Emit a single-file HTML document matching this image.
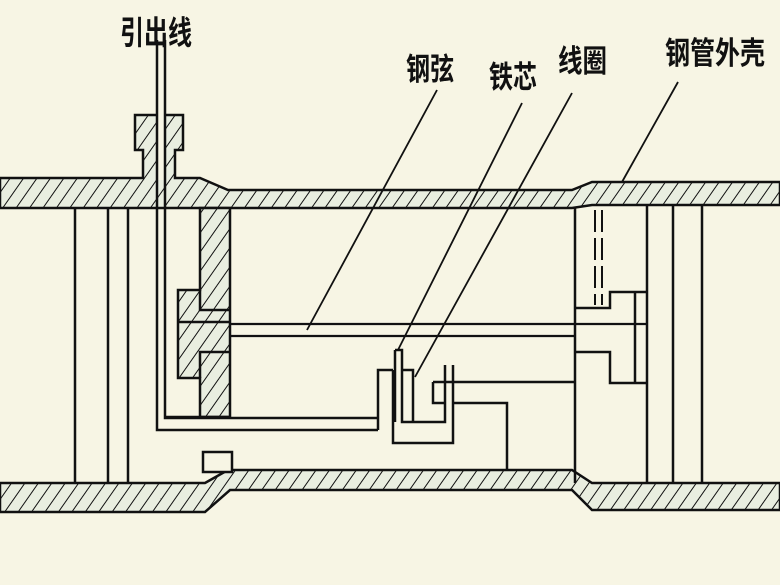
<!DOCTYPE html>
<html><head><meta charset="utf-8"><style>
html,body{margin:0;padding:0;background:#f7f5e4;}
svg{display:block}
text{font-family:"Liberation Sans","Noto Sans CJK SC","WenQuanYi Zen Hei",sans-serif;font-weight:bold;fill:#111}
</style></head><body>
<svg width="780" height="585" viewBox="0 0 780 585" xmlns="http://www.w3.org/2000/svg">
<defs>
<pattern id="h" patternUnits="userSpaceOnUse" width="11" height="11" patternTransform="rotate(35)">
<rect width="11" height="11" fill="#e9eee0"/>
<line x1="0" y1="0" x2="0" y2="11" stroke="#111" stroke-width="2"/>
</pattern>
</defs>
<rect width="780" height="585" fill="#f7f5e4"/>
<g stroke="#111" stroke-width="2.5" fill="none" stroke-linejoin="miter">
<!-- top pipe -->
<path fill="url(#h)" d="M0,178 H143 V150 H135 V115 H183 V150 H175 V178 H200 L228,190 H572 L592,182 H780 V205 H592 L572,208 H0 Z"/>
<!-- bottom pipe -->
<path fill="url(#h)" d="M0,483 H205 L228,470 H572 L592,483 H780 V510 H592 L572,490 H230 L205,512 H0 Z"/>
<!-- lead wire -->
<rect x="157" y="40" width="8" height="140" fill="#f7f5e4" stroke="none"/>
<path d="M157,40 V430 H378 M165,40 V418 H378"/>
<!-- left vertical lines -->
<path d="M75,207 V483 M108,207 V483 M128,207 V483"/>
<!-- plate -->
<path fill="url(#h)" d="M200,208 H230 V417 H200 V378 H178 V290 H200 Z"/>
<path d="M200,290 V310 H230 M200,378 V352 H230 M178,322 H230"/>
<path d="M165,417 H230"/>
<!-- string -->
<path d="M230,324 H647 M230,336 H575" stroke-width="2.2"/>
<!-- bottom small block -->
<rect x="203" y="452" width="29" height="20" fill="#f7f5e4"/>
<!-- right clamp -->
<path d="M575,207 V483 M647,205 V483 M673,205 V483 M702,205 V483"/>
<path d="M595,210 V305 M602,210 V305" stroke-dasharray="22,6" stroke-width="2"/>
<path d="M575,308 H610 V292 H647 M635,292 V383 M575,352 H610 V383 H647"/>
<!-- core & coil -->
<path d="M378,418 V370 H393 M378,430 V418"/>
<path d="M395,350 H402 V422 H445 V365 M395,350 V422"/>
<path d="M393,370 V443 H453 V365"/>
<path d="M402,370 H413 V422"/>
<path d="M433,382 H575 M433,382 V403 H445 M453,403 H507 V470"/>
<!-- leaders -->
<path d="M437,90 L307,330 M522,103 L398,350 M572,93 L415,377 M678,82 L622,182" stroke-width="1.8"/>
</g>
<g font-size="24">
<text x="120" y="0" transform="translate(0,44) scale(1,1.35)" textLength="72" lengthAdjust="spacingAndGlyphs">引出线</text>
<text x="406" y="0" transform="translate(0,80) scale(1,1.3)" textLength="48" lengthAdjust="spacingAndGlyphs">钢弦</text>
<text x="489" y="0" transform="translate(0,88) scale(1,1.3)" textLength="48" lengthAdjust="spacingAndGlyphs">铁芯</text>
<text x="558" y="0" transform="translate(0,72) scale(1,1.3)" textLength="49" lengthAdjust="spacingAndGlyphs">线圈</text>
<text x="665" y="0" transform="translate(0,64) scale(1,1.3)" textLength="100" lengthAdjust="spacingAndGlyphs">钢管外壳</text>
</g>
</svg>
</body></html>
